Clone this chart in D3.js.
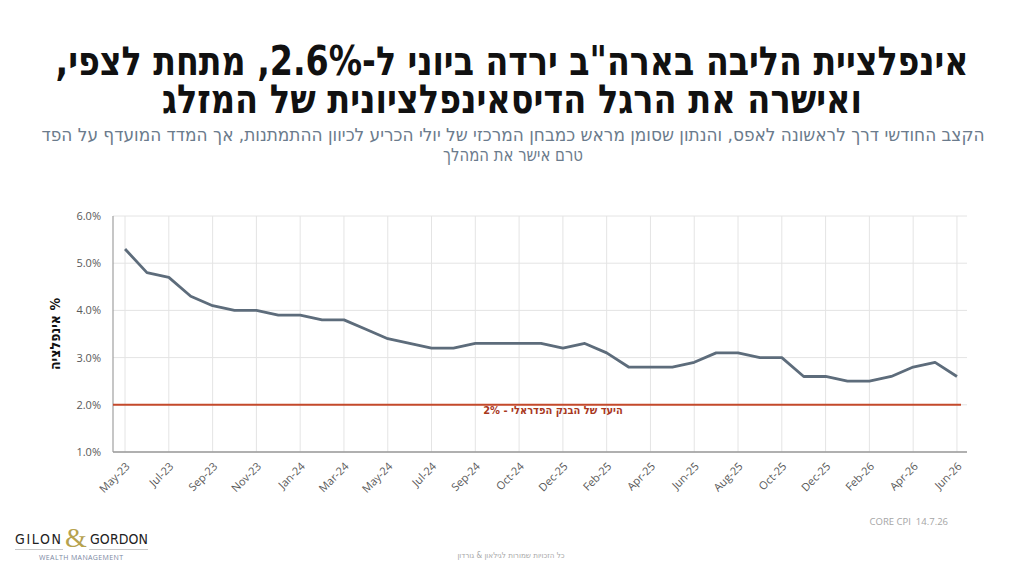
<!DOCTYPE html>
<html>
<head>
<meta charset="utf-8">
<script src="https://cdn.jsdelivr.net/npm/d3@7"></script>
<style>
  html, body { margin: 0; padding: 0; background: #fff; }
  svg { display: block; }
</style>
</head>
<body>
<div id="chart"></div>
<script>
// core CPI, monthly, May-23 .. Jun-26 (39 points)
var cpiValues = [5.3, 4.8, 4.7, 4.3, 4.1, 4.0, 4.0, 3.9, 3.9, 3.8, 3.8, 3.6, 3.4, 3.3, 3.2, 3.2,
  3.3, 3.3, 3.3, 3.3, 3.2, 3.3, 3.1, 2.8, 2.8, 2.8, 2.9, 3.1, 3.1, 3.0, 3.0, 2.6, 2.6, 2.5,
  2.5, 2.6, 2.8, 2.9, 2.6];
// labels as printed on the axis, one every second point
var xTickLabels = ['May-23', 'Jul-23', 'Sep-23', 'Nov-23', 'Jan-24', 'Mar-24', 'May-24', 'Jul-24',
  'Sep-24', 'Oct-24', 'Dec-25', 'Feb-25', 'Apr-25', 'Jun-25', 'Aug-25', 'Oct-25', 'Dec-25',
  'Feb-26', 'Apr-26', 'Jun-26'];
var yTicks = [1, 2, 3, 4, 5, 6];
var fedTarget = 2.0;

var titleLines = ['אינפלציית הליבה בארה"ב ירדה ביוני ל-2.6%, מתחת לצפי,',
  'ואישרה את הרגל הדיסאינפלציונית של המזלג'];
var subtitleLines = ['הקצב החודשי דרך לראשונה לאפס, והנתון שסומן מראש כמבחן המרכזי של יולי הכריע לכיוון ההתמתנות, אך המדד המועדף על הפד',
  'טרם אישר את המהלך'];

var W = 1024, H = 576;
var svg = d3.select('#chart').append('svg').attr('width', W).attr('height', H);

var hebFont = '"Liberation Sans Narrow", "DejaVu Sans Condensed", "Liberation Sans", sans-serif';
var latFont = '"Open Sans", "Liberation Sans", sans-serif';

// titles, squeezed to the reference widths
var titleSpec = [{y: 75, w: 913}, {y: 113, w: 700}];
titleLines.forEach(function(t, i) {
  svg.append('text')
    .attr('x', 512).attr('y', titleSpec[i].y)
    .attr('text-anchor', 'middle').attr('direction', 'rtl')
    .attr('textLength', titleSpec[i].w).attr('lengthAdjust', 'spacingAndGlyphs')
    .style('font-family', hebFont).style('font-weight', 'bold').style('font-size', '40px')
    .style('fill', '#111').text(t);
});
var subSpec = [{y: 141, w: 943}, {y: 161, w: 140}];
subtitleLines.forEach(function(t, i) {
  svg.append('text')
    .attr('x', 513).attr('y', subSpec[i].y)
    .attr('text-anchor', 'middle').attr('direction', 'rtl')
    .attr('textLength', subSpec[i].w).attr('lengthAdjust', 'spacingAndGlyphs')
    .style('font-family', hebFont).style('font-size', '18px')
    .style('fill', '#6b7b8c').text(t);
});

// scales
var x = d3.scalePoint().domain(d3.range(cpiValues.length)).range([113, 969]).padding(0.55);
var y = d3.scaleLinear().domain([1, 6]).range([452, 216]);
var tickIdx = d3.range(0, cpiValues.length, 2);

// grid
svg.append('g').selectAll('line').data(yTicks).enter().append('line')
  .attr('x1', 113).attr('x2', 967)
  .attr('y1', function(d) { return y(d); }).attr('y2', function(d) { return y(d); })
  .style('stroke', '#e4e4e4').style('stroke-width', 1);
svg.append('g').selectAll('line').data(tickIdx).enter().append('line')
  .attr('x1', function(d) { return x(d); }).attr('x2', function(d) { return x(d); })
  .attr('y1', y(6)).attr('y2', y(1))
  .style('stroke', '#e4e4e4').style('stroke-width', 1);

// axes
var yAxis = svg.append('g').attr('transform', 'translate(113,0)')
  .call(d3.axisLeft(y).tickValues(yTicks).tickSize(0).tickPadding(12)
    .tickFormat(function(d) { return d.toFixed(1) + '%'; }));
yAxis.select('.domain').remove();
yAxis.selectAll('text').style('font-family', latFont).style('font-size', '11px').style('fill', '#595959');

var xAxis = svg.append('g').attr('transform', 'translate(0,452)')
  .call(d3.axisBottom(x).tickValues(tickIdx).tickSize(0)
    .tickFormat(function(d) { return xTickLabels[d / 2]; }));
xAxis.select('.domain').remove();
xAxis.selectAll('text')
  .attr('y', 0).attr('dy', 0)
  .attr('text-anchor', 'end')
  .attr('transform', 'translate(5,15) rotate(-45)')
  .style('font-family', latFont).style('font-size', '11px').style('fill', '#595959');

svg.append('line').attr('x1', 113).attr('x2', 113).attr('y1', y(6)).attr('y2', y(1))
  .style('stroke', '#a0a0a0').style('stroke-width', 1.2);
svg.append('line').attr('x1', 113).attr('x2', 967).attr('y1', y(1)).attr('y2', y(1))
  .style('stroke', '#9a9a9a').style('stroke-width', 1.5);

// fed target
svg.append('line').attr('x1', 113).attr('x2', 961)
  .attr('y1', y(fedTarget)).attr('y2', y(fedTarget))
  .style('stroke', '#c4492b').style('stroke-width', 2);
svg.append('text').attr('x', 553).attr('y', y(fedTarget) + 9)
  .attr('text-anchor', 'middle').attr('direction', 'rtl')
  .style('font-family', hebFont).style('font-weight', 'bold').style('font-size', '11px')
  .style('fill', '#a8381e').text('היעד של הבנק הפדראלי - 2%');

// CPI line
var line = d3.line()
  .x(function(d, i) { return x(i); })
  .y(function(d) { return y(d); });
svg.append('path').datum(cpiValues).attr('d', line)
  .style('fill', 'none').style('stroke', '#5d6c7b').style('stroke-width', 2.8)
  .style('stroke-linejoin', 'round');

// y title
svg.append('text').attr('transform', 'translate(60,334) rotate(-90)')
  .attr('text-anchor', 'middle').attr('direction', 'rtl')
  .style('font-family', hebFont).style('font-weight', 'bold').style('font-size', '14px')
  .style('fill', '#111').text('% אינפלציה');

// footer
svg.append('text').attr('x', 948).attr('y', 525).attr('text-anchor', 'end')
  .attr('xml:space', 'preserve')
  .style('font-family', latFont).style('font-size', '9.5px').style('fill', '#a5a5a5')
  .text('CORE CPI  14.7.26');
svg.append('text').attr('x', 511).attr('y', 558).attr('text-anchor', 'middle').attr('direction', 'rtl')
  .style('font-family', hebFont).style('font-size', '8px').style('fill', '#a8a8a8')
  .text('כל הזכויות שמורות לגילאון & גורדון');

// logo
var logo = svg.append('g');
logo.append('text').attr('x', 15).attr('y', 544).attr('textLength', 46).attr('lengthAdjust', 'spacing')
  .style('font-family', '"DejaVu Sans Condensed", sans-serif').style('font-size', '14px').style('fill', '#222')
  .text('GILON');
logo.append('text').attr('x', 90).attr('y', 544).attr('textLength', 58).attr('lengthAdjust', 'spacing')
  .style('font-family', '"DejaVu Sans Condensed", sans-serif').style('font-size', '14px').style('fill', '#222')
  .text('GORDON');
logo.append('text').attr('x', 76).attr('y', 547).attr('text-anchor', 'middle')
  .style('font-family', '"Liberation Serif", serif').style('font-size', '28px').style('fill', '#b6a24e')
  .text('&');
logo.append('line').attr('x1', 15).attr('x2', 63).attr('y1', 549.5).attr('y2', 549.5)
  .style('stroke', '#c8c8c8').style('stroke-width', 1);
logo.append('line').attr('x1', 89).attr('x2', 148).attr('y1', 549.5).attr('y2', 549.5)
  .style('stroke', '#c8c8c8').style('stroke-width', 1);
logo.append('text').attr('x', 81).attr('y', 560).attr('text-anchor', 'middle')
  .attr('textLength', 84).attr('lengthAdjust', 'spacing')
  .style('font-family', latFont).style('font-size', '7px').style('fill', '#7b88a2')
  .text('WEALTH MANAGEMENT');
</script>
</body>
</html>
